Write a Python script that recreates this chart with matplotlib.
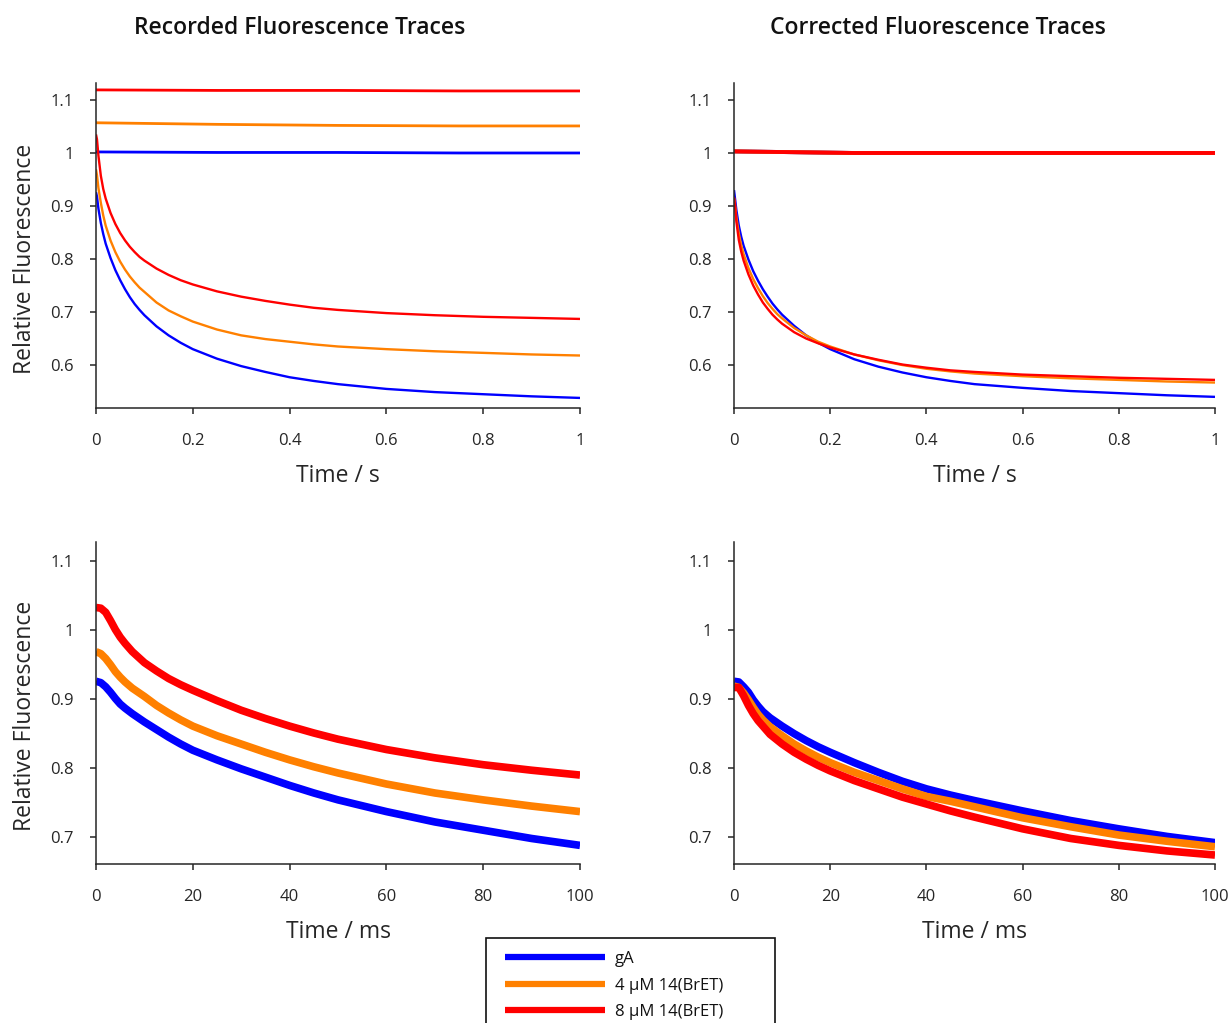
import matplotlib
matplotlib.use("Agg")
import matplotlib.pyplot as plt
from matplotlib.ticker import FixedLocator, FixedFormatter
from matplotlib.patches import Rectangle

plt.rcParams['font.family'] = ['Open Sans', 'DejaVu Sans']

# ---------------- data ----------------
series_labels = ["gA", "4 \u00b5M 14(BrET)", "8 \u00b5M 14(BrET)"]
series_colors = ["#0000ff", "#ff8000", "#ff0000"]

# top panels: time in seconds
t_s = [0, 0.002, 0.005, 0.01, 0.015, 0.02, 0.03, 0.04, 0.05, 0.06, 0.07, 0.08,
       0.09, 0.1, 0.125, 0.15, 0.175, 0.2, 0.25, 0.3, 0.35, 0.4, 0.45, 0.5,
       0.6, 0.7, 0.8, 0.9, 1.0]
flat_t = [0, 0.25, 0.5, 0.75, 1.0]

# recorded, flat (control) traces
rec_flat_gA = [1.002, 1.001, 1.001, 1.000, 1.000]
rec_flat_4 = [1.057, 1.054, 1.052, 1.051, 1.051]
rec_flat_8 = [1.119, 1.118, 1.118, 1.117, 1.117]

# recorded, decaying traces
rec_gA = [0.926, 0.918, 0.895, 0.868, 0.847, 0.829, 0.802, 0.779, 0.760, 0.743,
          0.728, 0.715, 0.704, 0.694, 0.673, 0.656, 0.642, 0.630, 0.612, 0.598,
          0.587, 0.577, 0.570, 0.564, 0.555, 0.549, 0.545, 0.541, 0.538]
rec_4 = [0.969, 0.958, 0.934, 0.906, 0.882, 0.863, 0.835, 0.813, 0.795, 0.780,
         0.767, 0.756, 0.746, 0.738, 0.718, 0.703, 0.692, 0.682, 0.667, 0.656,
         0.649, 0.644, 0.639, 0.635, 0.630, 0.626, 0.623, 0.620, 0.618]
rec_8 = [1.035, 1.026, 0.995, 0.957, 0.932, 0.914, 0.887, 0.866, 0.849, 0.835,
         0.823, 0.813, 0.804, 0.797, 0.782, 0.770, 0.760, 0.752, 0.739, 0.729,
         0.721, 0.714, 0.708, 0.704, 0.698, 0.694, 0.691, 0.689, 0.687]

# corrected, flat traces
cor_flat_gA = [1.003, 1.000, 1.000, 1.000, 1.000]
cor_flat_4 = [1.003, 1.000, 1.000, 1.000, 1.000]
cor_flat_8 = [1.003, 1.000, 1.000, 1.000, 1.000]

# corrected, decaying traces
cor_gA = [0.930, 0.915, 0.892, 0.863, 0.842, 0.825, 0.799, 0.777, 0.759, 0.743,
          0.729, 0.716, 0.705, 0.695, 0.674, 0.656, 0.642, 0.630, 0.611, 0.597,
          0.586, 0.577, 0.570, 0.564, 0.557, 0.551, 0.547, 0.543, 0.540]
cor_4 = [0.915, 0.903, 0.878, 0.848, 0.826, 0.809, 0.783, 0.762, 0.745, 0.730,
         0.717, 0.706, 0.696, 0.688, 0.670, 0.656, 0.644, 0.635, 0.620, 0.609,
         0.600, 0.593, 0.588, 0.584, 0.579, 0.575, 0.572, 0.569, 0.567]
cor_8 = [0.917, 0.902, 0.870, 0.836, 0.814, 0.797, 0.771, 0.750, 0.733, 0.718,
         0.706, 0.695, 0.686, 0.678, 0.662, 0.650, 0.641, 0.633, 0.620, 0.610,
         0.601, 0.595, 0.590, 0.587, 0.582, 0.579, 0.576, 0.574, 0.572]

# bottom panels: time in ms
t_ms = [0, 1, 2, 3, 4, 5, 6, 7.5, 10, 12.5, 15, 17.5, 20, 25, 30, 35, 40, 45,
        50, 60, 70, 80, 90, 100]
rec_ms_gA = [0.926, 0.924, 0.918, 0.910, 0.901, 0.893, 0.887, 0.879, 0.867, 0.856,
             0.845, 0.835, 0.826, 0.812, 0.799, 0.787, 0.775, 0.764, 0.754, 0.737,
             0.722, 0.710, 0.698, 0.688]
rec_ms_4 = [0.969, 0.966, 0.959, 0.950, 0.940, 0.932, 0.925, 0.916, 0.904, 0.891,
            0.880, 0.870, 0.861, 0.847, 0.835, 0.823, 0.812, 0.802, 0.793, 0.777,
            0.764, 0.754, 0.745, 0.737]
rec_ms_8 = [1.033, 1.032, 1.026, 1.014, 1.001, 0.990, 0.981, 0.969, 0.953, 0.941,
            0.930, 0.921, 0.913, 0.898, 0.884, 0.872, 0.861, 0.851, 0.842, 0.827,
            0.815, 0.805, 0.797, 0.790]
cor_ms_gA = [0.926, 0.925, 0.918, 0.910, 0.899, 0.890, 0.882, 0.873, 0.861, 0.850,
             0.840, 0.831, 0.823, 0.808, 0.794, 0.781, 0.770, 0.761, 0.753, 0.738,
             0.724, 0.712, 0.701, 0.692]
cor_ms_4 = [0.919, 0.917, 0.909, 0.899, 0.888, 0.878, 0.870, 0.860, 0.847, 0.835,
            0.825, 0.816, 0.808, 0.794, 0.782, 0.770, 0.759, 0.752, 0.744, 0.728,
            0.715, 0.703, 0.694, 0.686]
cor_ms_8 = [0.917, 0.917, 0.905, 0.891, 0.879, 0.869, 0.861, 0.849, 0.835, 0.823,
            0.813, 0.804, 0.796, 0.782, 0.770, 0.758, 0.748, 0.738, 0.729, 0.712,
            0.698, 0.688, 0.680, 0.674]

xt_s = [0, 0.2, 0.4, 0.6, 0.8, 1.0]
xt_s_labels = ["0", "0.2", "0.4", "0.6", "0.8", "1"]
xt_ms = [0, 20, 40, 60, 80, 100]
xt_ms_labels = ["0", "20", "40", "60", "80", "100"]
yt_top = [0.6, 0.7, 0.8, 0.9, 1.0, 1.1]
yt_top_labels = ["0.6", "0.7", "0.8", "0.9", "1", "1.1"]
yt_bot = [0.7, 0.8, 0.9, 1.0, 1.1]
yt_bot_labels = ["0.7", "0.8", "0.9", "1", "1.1"]

# ---------------- figure ----------------
W, H = 1232, 1023
fig = plt.figure(figsize=(W / 100, H / 100), dpi=100)

def px_axes(x0, x1, ytop, ybot):
    return fig.add_axes([x0 / W, 1 - ybot / H, (x1 - x0) / W, (ybot - ytop) / H])

ax_tl = px_axes(96, 580, 83, 408)
ax_tr = px_axes(734, 1215, 83, 408)
ax_bl = px_axes(96, 580, 542, 864)
ax_br = px_axes(734, 1215, 542, 864)

dark = "#262626"

def style(ax, xt, xtl, yt, ytl, xlim, ylim, xlabel, ylabel):
    ax.set_xlim(*xlim)
    ax.set_ylim(*ylim)
    for s in ("top", "right"):
        ax.spines[s].set_visible(False)
    for s in ("left", "bottom"):
        ax.spines[s].set_color(dark)
        ax.spines[s].set_linewidth(1.1)
    ax.xaxis.set_major_locator(FixedLocator(xt))
    ax.xaxis.set_major_formatter(FixedFormatter(xtl))
    ax.yaxis.set_major_locator(FixedLocator(yt))
    ax.yaxis.set_major_formatter(FixedFormatter(ytl))
    ax.tick_params(axis="x", direction="out", length=4, width=1.1, color=dark,
                   labelsize=12, labelcolor=dark, pad=14)
    ax.tick_params(axis="y", direction="out", length=4, width=1.1, color=dark,
                   labelsize=12, labelcolor=dark, pad=12)
    ax.set_xlabel(xlabel, fontsize=16.5, color=dark, labelpad=11)
    if ylabel:
        ax.set_ylabel(ylabel, fontsize=16.5, color=dark)
        ax.yaxis.set_label_coords(-0.122, 0.46)
    ax.patch.set_alpha(0)

top_ylim = (0.519, 1.132)
bot_ylim = (0.661, 1.128)

# top-left: recorded
for flat, dec, c in zip([rec_flat_gA, rec_flat_4, rec_flat_8],
                        [rec_gA, rec_4, rec_8], series_colors):
    ax_tl.plot(flat_t, flat, color=c, lw=2.0, solid_capstyle="butt")
    ax_tl.plot(t_s, dec, color=c, lw=1.7, solid_capstyle="butt")
style(ax_tl, xt_s, xt_s_labels, yt_top, yt_top_labels, (0, 1), top_ylim,
      "Time / s", "Relative Fluorescence")

# top-right: corrected
for flat, dec, c in zip([cor_flat_gA, cor_flat_4, cor_flat_8],
                        [cor_gA, cor_4, cor_8], series_colors):
    ax_tr.plot(flat_t, flat, color=c, lw=2.8, solid_capstyle="butt")
    ax_tr.plot(t_s, dec, color=c, lw=1.7, solid_capstyle="butt")
style(ax_tr, xt_s, xt_s_labels, yt_top, yt_top_labels, (0, 1), top_ylim,
      "Time / s", None)

# bottom-left: recorded, first 100 ms
lines = []
for vals, c, lab in zip([rec_ms_gA, rec_ms_4, rec_ms_8], series_colors, series_labels):
    ln, = ax_bl.plot(t_ms, vals, color=c, lw=5.5, label=lab, solid_capstyle="butt")
    lines.append(ln)
style(ax_bl, xt_ms, xt_ms_labels, yt_bot, yt_bot_labels, (0, 100), bot_ylim,
      "Time / ms", "Relative Fluorescence")

# bottom-right: corrected, first 100 ms
for vals, c in zip([cor_ms_gA, cor_ms_4, cor_ms_8], series_colors):
    ax_br.plot(t_ms, vals, color=c, lw=5.5, solid_capstyle="butt")
style(ax_br, xt_ms, xt_ms_labels, yt_bot, yt_bot_labels, (0, 100), bot_ylim,
      "Time / ms", None)

# titles
fig.text(300 / W, 1 - 28 / H, "Recorded Fluorescence Traces", ha="center",
         va="center", fontsize=16.5, fontweight="semibold", color="#111111")
fig.text(938 / W, 1 - 28 / H, "Corrected Fluorescence Traces", ha="center",
         va="center", fontsize=16.5, fontweight="semibold", color="#111111")

# legend (frame drawn separately so it can run past the bottom edge)
frame = Rectangle((486 / W, -0.05), 289 / W, (1 - 938 / H) + 0.05,
                  transform=fig.transFigure, fill=True, facecolor="white",
                  edgecolor="#111111", linewidth=1.2, zorder=5)
fig.add_artist(frame)
leg = fig.legend(handles=lines, labels=series_labels, loc="upper left",
                 bbox_to_anchor=(505 / W, 1 - 951 / H), borderaxespad=0,
                 borderpad=0, fontsize=12, handlelength=6.0,
                 handletextpad=0.6, labelspacing=0.63, frameon=False)
leg.set_zorder(6)
for t in leg.get_texts():
    t.set_color("#111111")
for h in leg.legend_handles:
    h.set_linewidth(4.5)

fig.savefig("out.png", dpi=100)
